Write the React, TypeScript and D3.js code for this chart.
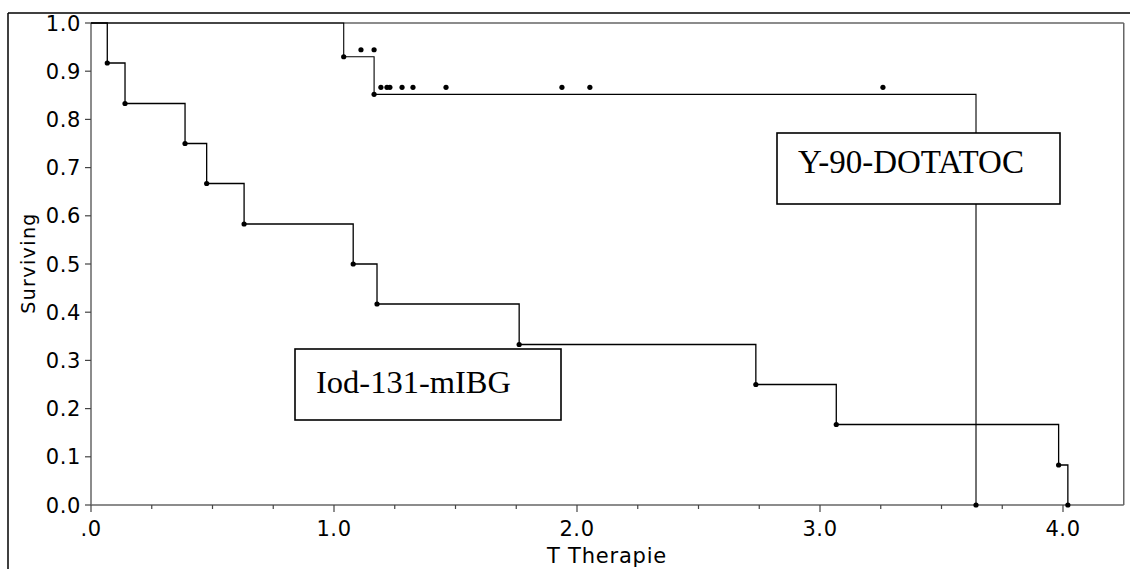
import React from "react";
import * as d3 from "d3";

// Iod-131-mIBG: event times and survival after each event
const iodTimes = [0.067, 0.14, 0.387, 0.476, 0.63, 1.079, 1.177, 1.762, 2.736, 3.067, 3.982, 4.02];
const iodSurv = [0.917, 0.833, 0.75, 0.667, 0.583, 0.5, 0.417, 0.333, 0.25, 0.167, 0.083, 0.0];

// Y-90-DOTATOC
const yTimes = [1.04, 1.165, 3.642];
const ySurv = [0.93, 0.852, 0.0];
// censored observations
const yCensorTimes = [1.111, 1.165, 1.193, 1.218, 1.23, 1.28, 1.325, 1.461, 1.938, 2.053, 3.259];
const yCensorSurv = [0.93, 0.93, 0.852, 0.852, 0.852, 0.852, 0.852, 0.852, 0.852, 0.852, 0.852];

const xTicksMajor = [0, 1, 2, 3, 4];
const xTickLabels = [".0", "1.0", "2.0", "3.0", "4.0"];
const yTicks = [0, 0.1, 0.2, 0.3, 0.4, 0.5, 0.6, 0.7, 0.8, 0.9, 1.0];

const W = 1130;
const H = 569;
const left = 91;
const right = 1123.75;
const top = 23;
const bottom = 505;
const sans = "'DejaVu Sans', Verdana, sans-serif";
const serif = "'Liberation Serif', 'Times New Roman', serif";

const App = () => {
  const x = d3.scaleLinear().domain([0, 4.25]).range([left, right]);
  const y = d3.scaleLinear().domain([0, 1]).range([bottom, top]);

  const line = d3
    .line<[number, number]>()
    .x((d) => x(d[0]))
    .y((d) => y(d[1]))
    .curve(d3.curveStepAfter);

  const iodPts: [number, number][] = [[0, 1], ...iodTimes.map((t, i) => [t, iodSurv[i]] as [number, number])];
  const yPts: [number, number][] = [[0, 1], ...yTimes.map((t, i) => [t, ySurv[i]] as [number, number])];

  const minorTicks = d3.range(0, 4.25, 0.25);

  return (
    <svg width={W} height={H} style={{ position: "absolute", left: 0, top: 0, background: "#fff" }}>
      {/* outer frame */}
      <line x1={8} x2={W} y1={13} y2={13} stroke="#000" strokeWidth={1.5} />
      <line x1={8} x2={8} y1={13} y2={H} stroke="#000" strokeWidth={1.5} />

      {/* plot frame */}
      <line x1={left} x2={right} y1={top} y2={top} stroke="#666" strokeWidth={1.5} />
      <line x1={right} x2={right} y1={top} y2={bottom} stroke="#666" strokeWidth={1.5} />
      <line x1={left} x2={left} y1={top} y2={bottom} stroke="#666" strokeWidth={1.5} />
      <line x1={left} x2={right} y1={bottom} y2={bottom} stroke="#666" strokeWidth={1.5} />

      {/* x ticks */}
      {minorTicks.map((t, i) => (
        <line key={"mx" + i} x1={x(t)} x2={x(t)} y1={bottom} y2={bottom + (t % 1 === 0 ? 7 : 4)} stroke="#444" strokeWidth={1.2} />
      ))}
      {xTicksMajor.map((t, i) => (
        <text key={"xl" + i} x={x(t)} y={536} textAnchor="middle" fontFamily={sans} fontSize={21} letterSpacing={0.6} fill="#000">
          {xTickLabels[i]}
        </text>
      ))}
      <text x={607} y={563} textAnchor="middle" fontFamily={sans} fontSize={21} letterSpacing={0.8} fill="#000">
        T Therapie
      </text>

      {/* y ticks */}
      {yTicks.map((t, i) => (
        <g key={"yt" + i}>
          <line x1={left - 6} x2={left} y1={y(t)} y2={y(t)} stroke="#444" strokeWidth={1.2} />
          <text x={81} y={y(t)} dy="0.36em" textAnchor="end" fontFamily={sans} fontSize={21} letterSpacing={0.6} fill="#000">
            {t.toFixed(1)}
          </text>
        </g>
      ))}
      <text
        transform={`translate(${35},${263}) rotate(-90)`}
        textAnchor="middle"
        fontFamily={sans}
        fontSize={19}
        letterSpacing={1.4}
        fill="#000"
      >
        Surviving
      </text>

      {/* survival curves */}
      <path d={line(iodPts) ?? ""} fill="none" stroke="#000" strokeWidth={1.3} />
      <path d={line(yPts) ?? ""} fill="none" stroke="#000" strokeWidth={1.1} />

      {iodTimes.map((t, i) => (
        <circle key={"id" + i} cx={x(t)} cy={y(iodSurv[i])} r={2.6} fill="#000" />
      ))}
      {yTimes.map((t, i) => (
        <circle key={"yd" + i} cx={x(t)} cy={y(ySurv[i])} r={2.6} fill="#000" />
      ))}
      {yCensorTimes.map((t, i) => (
        <circle key={"yc" + i} cx={x(t)} cy={y(yCensorSurv[i]) - 7} r={2.6} fill="#000" />
      ))}

      {/* labels */}
      <rect x={295} y={349} width={266} height={71} fill="#fff" stroke="#000" strokeWidth={1.6} />
      <text x={316} y={393} fontFamily={serif} fontSize={32.5} fill="#000">
        Iod-131-mIBG
      </text>
      <rect x={777} y={133} width={283} height={71} fill="#fff" stroke="#000" strokeWidth={1.6} />
      <text x={798} y={173} fontFamily={serif} fontSize={33} fill="#000">
        Y-90-DOTATOC
      </text>
    </svg>
  );
};

export default App;
